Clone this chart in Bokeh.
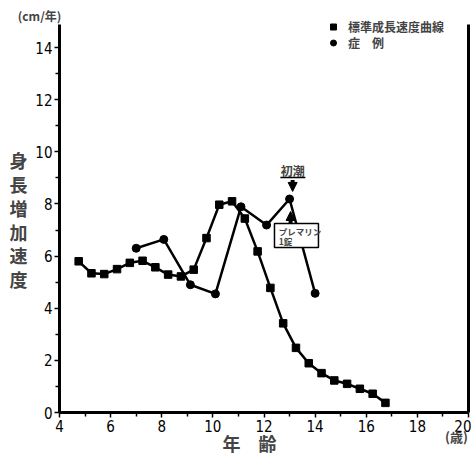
from bokeh.plotting import figure
from bokeh.models import (FixedTicker, Label, BoxAnnotation, Arrow, NormalHead,
                          Legend, LegendItem, Range1d, LinearAxis)
from bokeh.embed import file_html
from bokeh.resources import INLINE

# ---- data ----
std_age = [4.75, 5.25, 5.75, 6.25, 6.75, 7.25, 7.75, 8.25, 8.75, 9.25, 9.75, 10.25, 10.75,
           11.25, 11.75, 12.25, 12.75, 13.25, 13.75, 14.25, 14.75, 15.25, 15.75, 16.25, 16.75]
std_vel = [5.80, 5.34, 5.31, 5.50, 5.74, 5.82, 5.57, 5.29, 5.22, 5.48, 6.69, 7.97, 8.10,
           7.44, 6.18, 4.78, 3.42, 2.48, 1.89, 1.51, 1.23, 1.10, 0.91, 0.72, 0.37]

case_age = [7.0, 8.08, 9.12, 10.1, 11.1, 12.1, 13.0, 14.0]
case_vel = [6.30, 6.64, 4.90, 4.55, 7.89, 7.19, 8.19, 4.57]

x_ticks = [4, 6, 8, 10, 12, 14, 16, 18, 20]
x_minor = [5, 7, 9, 11, 13, 15, 17, 19]
y_ticks = [0, 2, 4, 6, 8, 10, 12, 14]
y_minor = [1, 3, 5, 7, 9, 11, 13]
x_min, x_max = 4, 20
y_min, y_max = 0, 14.9

legend_std = "標準成長速度曲線"
legend_case = "症　例"
y_title = "身長増加速度"
x_title = "年　齢"
y_unit = "(cm/年)"
x_unit = "(歳)"
menarche = "初潮"
premarin = ["プレマリン", "1錠"]

JP = "Noto Sans CJK JP"
NUM = "'Liberation Sans Narrow', 'DejaVu Sans Condensed', 'Liberation Sans', sans-serif"

# the frame covers the whole canvas; axes are drawn at fixed data locations
p = figure(width=471, height=455, output_backend="svg", toolbar_location=None,
           x_range=Range1d(1.692, 20.117), y_range=Range1d(-1.649, 15.803),
           x_axis_location=None, y_axis_location=None,
           min_border=0, min_border_left=0, min_border_right=0,
           min_border_top=0, min_border_bottom=0)
p.outline_line_color = None
p.grid.visible = False
p.background_fill_color = "white"

xax = LinearAxis(fixed_location=y_min, bounds=(x_min, x_max),
                 ticker=FixedTicker(ticks=x_ticks, minor_ticks=x_minor))
yax = LinearAxis(fixed_location=x_min, bounds=(y_min, y_max),
                 ticker=FixedTicker(ticks=y_ticks, minor_ticks=y_minor))
rax = LinearAxis(fixed_location=x_max, bounds=(y_min, y_max),
                 ticker=FixedTicker(ticks=[]), major_label_text_font_size="0px",
                 major_tick_line_color=None, minor_tick_line_color=None)
for ax in (xax, yax, rax):
    ax.axis_line_width = 3
    ax.axis_line_color = "black"
for ax in (xax, yax):
    ax.major_tick_line_width = 1.5
    ax.minor_tick_line_width = 1.5
    ax.major_tick_in = 0
    ax.major_tick_out = 5
    ax.minor_tick_in = 0
    ax.minor_tick_out = 4
    ax.major_label_text_font = NUM
    ax.major_label_text_font_size = "15px"
    ax.major_label_text_color = "black"
    ax.major_label_standoff = 2
p.add_layout(xax, "below")
p.add_layout(yax, "left")
p.add_layout(rax, "right")

# curves
p.line(std_age, std_vel, line_color="black", line_width=2.5)
r_std = p.scatter(std_age, std_vel, marker="square", size=7.5, color="black")
p.line(case_age, case_vel, line_color="black", line_width=2.5)
r_case = p.scatter(case_age, case_vel, marker="circle", size=8, color="black")

for lab, rend, loc in ((legend_std, r_std, (324, 420)), (legend_case, r_case, (324, 404))):
    p.add_layout(Legend(items=[LegendItem(label=lab, renderers=[rend])],
                        location=loc, padding=0, margin=0, spacing=0,
                        glyph_width=18, glyph_height=15, label_height=12, label_standoff=6,
                        label_text_font=JP, label_text_font_size="12px",
                        label_text_font_style="bold", label_text_baseline="middle",
                        label_text_line_height=1.0,
                        border_line_color=None, background_fill_alpha=0))

# annotations
p.add_layout(Label(x=13.12, y=9.28, text=menarche, text_font=JP, text_font_size="12px",
                   text_font_style="bold", text_align="center", text_baseline="middle"))
p.line([12.64, 13.62], [9.01, 9.01], line_color="black", line_width=1.5)
p.add_layout(Arrow(x_start=13.12, y_start=8.92, x_end=13.12, y_end=8.48, line_width=4,
                   end=NormalHead(size=9, fill_color="black", line_color="black")))
p.add_layout(Arrow(x_start=13.04, y_start=7.27, x_end=13.04, y_end=7.71, line_width=4,
                   end=NormalHead(size=9, fill_color="black", line_color="black")))
p.add_layout(BoxAnnotation(left=12.41, right=14.13, bottom=6.33, top=7.25,
                           fill_color="white", fill_alpha=1, line_color="black", line_width=1.5,
                           line_alpha=1))
p.add_layout(Label(x=12.58, y=6.98, text=premarin[0], text_font=JP, text_font_size="8.5px",
                   text_font_style="bold", text_baseline="middle"))
p.add_layout(Label(x=12.58, y=6.56, text=premarin[1], text_font=JP, text_font_size="8.5px",
                   text_font_style="bold", text_baseline="middle"))

# titles
def dlabel(x, y, text, size, **kw):
    p.add_layout(Label(x=x, y=y, text=text, text_font=JP, text_font_size=size,
                       text_font_style="bold", text_align="center", text_baseline="middle", **kw))

dlabel(2.396, 7.40, "\n".join(y_title), "18px", text_line_height=0.92)
dlabel(3.218, 15.23, y_unit, "12px")
dlabel(11.433, -1.151, x_title, "18px")
dlabel(19.53, -0.921, x_unit, "13px")

open("out.html", "w").write(file_html(p, INLINE))
